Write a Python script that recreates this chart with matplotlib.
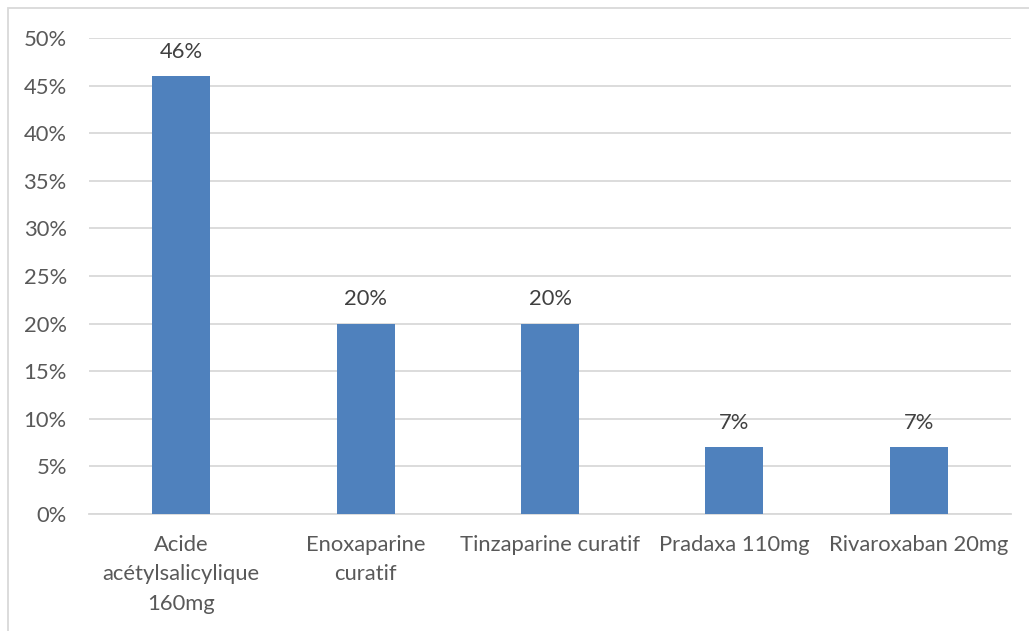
import matplotlib
matplotlib.use("Agg")
import matplotlib.pyplot as plt
from matplotlib.patches import Rectangle

categories = ["Acide\nacétylsalicylique\n160mg", "Enoxaparine\ncuratif", "Tinzaparine curatif",
              "Pradaxa 110mg", "Rivaroxaban 20mg"]
values = [46, 20, 20, 7, 7]
labels = ["46%", "20%", "20%", "7%", "7%"]
yticks = [0, 5, 10, 15, 20, 25, 30, 35, 40, 45, 50]
ytick_labels = [f"{t}%" for t in yticks]

plt.rcParams['font.family'] = ['Lato', 'DejaVu Sans']
fig = plt.figure(figsize=(10.29, 6.31), dpi=100)
ax = fig.add_axes([89/1029, 1 - 514/631, (1011-89)/1029, (514-38)/631])

FS = 15.8
x = list(range(len(categories)))
ax.bar(x, values, width=0.315, color="#4F81BD", zorder=3)
for xi, v, lab in zip(x, values, labels):
    ax.text(xi, v + 1.5, lab, ha="center", va="bottom", fontsize=FS, color="#404040")

ax.set_xlim(-0.5, len(categories) - 0.5)
ax.set_ylim(0, 50)
ax.set_yticks(yticks)
ax.set_yticklabels(ytick_labels, fontsize=FS, color="#595959")
ax.set_xticks(x)
ax.set_xticklabels(categories, fontsize=FS, color="#595959", linespacing=1.6)
ax.tick_params(axis="y", length=0, pad=16)
ax.tick_params(axis="x", length=0, pad=15)
ax.grid(axis="y", color="#D9D9D9", linewidth=1.3, zorder=0)
for s in ["top", "right", "left"]:
    ax.spines[s].set_visible(False)
ax.spines["bottom"].set_color("#D9D9D9")
ax.spines["bottom"].set_linewidth(1.3)

fig.patches.append(Rectangle((8/1029, -0.1), 1.2, 1 - 8/631 + 0.1, transform=fig.transFigure,
                             fill=False, edgecolor="#D9D9D9", linewidth=1.3))

fig.savefig("out.png", dpi=100)
